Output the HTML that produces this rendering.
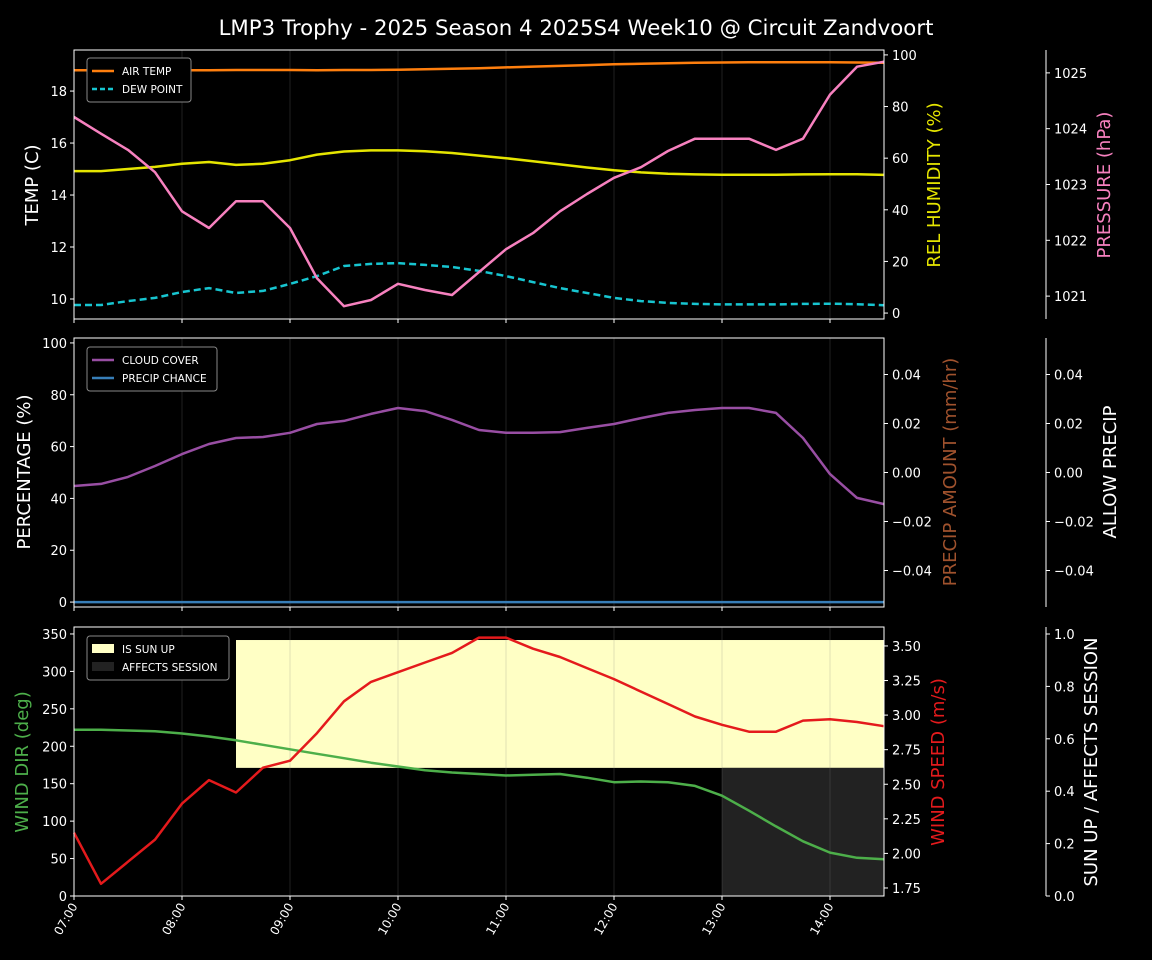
<!DOCTYPE html>
<html><head><meta charset="utf-8"><style>
html,body{margin:0;padding:0;background:#000;}
svg{display:block;font-family:"DejaVu Sans","Liberation Sans",sans-serif;}
</style></head><body>
<svg id="chart" width="1152" height="960" viewBox="0 0 1152 960" xmlns="http://www.w3.org/2000/svg">
<rect width="1152" height="960" fill="#000"/>
<text x="576" y="35" fill="#fff" font-size="21.3" text-anchor="middle">LMP3 Trophy - 2025 Season 4 2025S4 Week10 @ Circuit Zandvoort</text>
</svg>
<script>
const times=["07:00","08:00","09:00","10:00","11:00","12:00","13:00","14:00"];
const airTemp=[18.8,18.8,18.8,18.8,18.8,18.8,18.81,18.81,18.81,18.8,18.81,18.81,18.82,18.84,18.86,18.88,18.91,18.94,18.97,19.0,19.03,19.05,19.07,19.09,19.1,19.11,19.11,19.11,19.11,19.1,19.09];
const dewPoint=[9.77,9.77,9.92,10.04,10.27,10.42,10.23,10.31,10.58,10.88,11.27,11.35,11.38,11.31,11.23,11.08,10.88,10.65,10.42,10.23,10.04,9.92,9.85,9.81,9.79,9.79,9.79,9.81,9.82,9.80,9.76];
const humidity=[55.0,55.0,55.8,56.6,57.8,58.5,57.4,57.8,59.2,61.4,62.6,63.0,63.0,62.7,62.0,61.0,60.0,58.8,57.6,56.4,55.3,54.5,54.0,53.7,53.6,53.6,53.6,53.7,53.8,53.8,53.5];
const pressure=[1024.21,1023.91,1023.62,1023.22,1022.52,1022.22,1022.70,1022.70,1022.22,1021.32,1020.82,1020.93,1021.22,1021.11,1021.02,1021.43,1021.84,1022.13,1022.52,1022.83,1023.12,1023.31,1023.60,1023.82,1023.82,1023.82,1023.62,1023.82,1024.61,1025.11,1025.20];
const cloud=[44.8,45.6,48.3,52.5,57.1,61.0,63.3,63.7,65.3,68.7,69.9,72.6,74.9,73.7,70.3,66.4,65.3,65.3,65.6,67.2,68.7,71.0,73.0,74.1,74.9,74.9,73.0,63.3,49.4,40.2,37.8];
const precipChance=[0,0,0,0,0,0,0,0,0,0,0,0,0,0,0,0,0,0,0,0,0,0,0,0,0,0,0,0,0,0,0];
const windDir=[222,222,221,220,217,213,208,202,196,190,184,178,173,168,165,163,161,162,163,158,152,153,152,147,134,114,93,73,58,51,49];
const windSpd=[2.15,1.78,1.94,2.10,2.36,2.53,2.44,2.62,2.67,2.87,3.10,3.24,3.31,3.38,3.45,3.56,3.56,3.48,3.42,3.34,3.26,3.17,3.08,2.99,2.93,2.88,2.88,2.96,2.97,2.95,2.92];
const sunUpRange=[6,30];
const sunUpLevels=[0.489,0.977];
const affectsRange=[24,30];
const affectsLevels=[0,0.489];
const tempTicks=[10,12,14,16,18];
const humTicks=[0,20,40,60,80,100];
const presTicks=[1021,1022,1023,1024,1025];
const pctTicks=[0,20,40,60,80,100];
const precTicks=[-0.04,-0.02,0.00,0.02,0.04];
const dirTicks=[0,50,100,150,200,250,300,350];
const spdTicks=[1.75,2.00,2.25,2.50,2.75,3.00,3.25,3.50];
const sunTicks=[0.0,0.2,0.4,0.6,0.8,1.0];

const svg=document.getElementById('chart');
const NS="http://www.w3.org/2000/svg";
const X0=74,X1=884;
const xi=i=>X0+(X1-X0)*i/30;
function el(tag,attrs,parent){const e=document.createElementNS(NS,tag);for(const k in attrs)e.setAttribute(k,attrs[k]);(parent||svg).appendChild(e);return e;}
function txt(x,y,s,attrs){const t=el('text',Object.assign({x:x,y:y,fill:'#fff','font-size':13},attrs||{}));t.textContent=s;return t;}
function lin(dmin,dmax,pTop,pBot){return v=>pBot-(v-dmin)/(dmax-dmin)*(pBot-pTop);}
function axis(x,ys,ticks,fmt,side,name){
  const g=el('g',{});
  
  
  ticks.forEach(t=>{const y=ys(t);
    if(side==='left'){el('line',{x1:x-4,x2:x,y1:y,y2:y,stroke:'#fff'},g);g.appendChild(txt(x-7,y+5,fmt(t),{'text-anchor':'end'}));}
    else{el('line',{x1:x,x2:x+4,y1:y,y2:y,stroke:'#fff'},g);g.appendChild(txt(x+8,y+5,fmt(t)));}
  });
}
function vtitle(x,y,s,color,name){const t=txt(x,y,s,{fill:color,'font-size':18,'text-anchor':'middle',transform:`rotate(-90 ${x} ${y})`});
  
  }
function line(data,ys,color,name,dash,w){const p=el('path',{d:data.map((v,i)=>(i?'L':'M')+xi(i).toFixed(1)+','+ys(v).toFixed(1)).join(''),fill:'none',stroke:color,'stroke-width':w||2.5,'stroke-linejoin':'round'});
  if(dash)p.setAttribute('stroke-dasharray',dash);
  
  }
function frame(top,bot,name){
  const g=el('g',{});
  
  
  for(let h=1;h<8;h++){const x=X0+108*h;el('line',{x1:x,x2:x,y1:top,y2:bot,stroke:'rgba(128,128,128,0.16)','stroke-width':1.5},g);}
  for(let h=0;h<8;h++){const x=X0+108*h;el('line',{x1:x,x2:x,y1:bot,y2:bot+4,stroke:'#fff'},g);}
}
function border(top,bot){el('rect',{x:X0,y:top,width:X1-X0,height:bot-top,fill:'none',stroke:'#fff','stroke-width':1});}
function legend(x,y,w,items,name){
  const g=el('g',{});
  
  
  el('rect',{x:x,y:y,width:w,height:8+items.length*18,rx:3,fill:'#000',stroke:'#888','stroke-width':1},g);
  items.forEach((it,k)=>{const yy=y+13+k*18;
    if(it.patch)el('rect',{x:x+5,y:yy-5,width:22,height:9,fill:it.color},g);
    else{const l=el('line',{x1:x+5,x2:x+27,y1:yy,y2:yy,stroke:it.color,'stroke-width':2.5},g);if(it.dash)l.setAttribute('stroke-dasharray','5,3');}
    g.appendChild(txt(x+35,yy+4,it.label,{'font-size':10.5}));});
}
const f0=v=>String(v), f2=v=>(v<0?'\u2212':'')+Math.abs(v).toFixed(2), f1=v=>v.toFixed(1);

// Panel 1
let T=50,B=319;
frame(T,B,'temp-panel-grid');
const yT=lin(9.23,19.58,T,B), yH=lin(-2.3,101.9,T,B), yP=lin(1020.59,1025.41,T,B);
line(airTemp,yT,'#ff7f0e','air-temp-line');
line(dewPoint,yT,'#17c5d0','dew-point-line','7,4');
line(humidity,yH,'#e5e500','humidity-line');
line(pressure,yP,'#f781bf','pressure-line');
border(T,B);
axis(X0,yT,tempTicks,f0,'left','temp-axis');
axis(X1,yH,humTicks,f0,'right','humidity-axis');
el('line',{x1:1046,x2:1046,y1:T,y2:B,stroke:'#fff'});
axis(1046,yP,presTicks,f0,'right','pressure-axis');
vtitle(38,185,'TEMP (C)','#fff','temp-axis-title');
vtitle(940,185,'REL HUMIDITY (%)','#e5e500','humidity-axis-title');
vtitle(1110,185,'PRESSURE (hPa)','#f781bf','pressure-axis-title');
legend(87,58,104,[{label:'AIR TEMP',color:'#ff7f0e'},{label:'DEW POINT',color:'#17c5d0',dash:1}],'temp-legend');

// Panel 2
T=338;B=607;
frame(T,B,'percent-panel-grid');
const yC=lin(-1.9,101.9,T,B), yR=lin(-0.0549,0.0549,T,B);
line(cloud,yC,'#984ea3','cloud-cover-line');
line(precipChance,yC,'#377eb8','precip-chance-line');
border(T,B);
axis(X0,yC,pctTicks,f0,'left','percentage-axis');
axis(X1,yR,precTicks,f2,'right','precip-amount-axis');
el('line',{x1:1046,x2:1046,y1:T,y2:B,stroke:'#fff'});
axis(1046,yR,precTicks,f2,'right','allow-precip-axis');
vtitle(30,472,'PERCENTAGE (%)','#fff','percentage-axis-title');
vtitle(956,472,'PRECIP AMOUNT (mm/hr)','#a0522d','precip-amount-axis-title');
vtitle(1116,472,'ALLOW PRECIP','#fff','allow-precip-axis-title');
legend(87,347,130,[{label:'CLOUD COVER',color:'#984ea3'},{label:'PRECIP CHANCE',color:'#377eb8'}],'percent-legend');

// Panel 3
T=627;B=896;
const yS=lin(0,1.0267,T,B);
const sr=el('rect',{x:xi(sunUpRange[0]),y:yS(sunUpLevels[1]),width:xi(sunUpRange[1])-xi(sunUpRange[0]),height:yS(sunUpLevels[0])-yS(sunUpLevels[1]),fill:'#ffffc5'});


const ar=el('rect',{x:xi(affectsRange[0]),y:yS(affectsLevels[1]),width:xi(affectsRange[1])-xi(affectsRange[0]),height:yS(affectsLevels[0])-yS(affectsLevels[1]),fill:'#222'});


frame(T,B,'wind-panel-grid');
const yD=lin(0,359.3,T,B), yW=lin(1.692,3.637,T,B);
line(windDir,yD,'#4daf4a','wind-dir-line');
line(windSpd,yW,'#e41a1c','wind-speed-line');
border(T,B);
axis(X0,yD,dirTicks,f0,'left','wind-dir-axis');
axis(X1,yW,spdTicks,f2,'right','wind-speed-axis');
el('line',{x1:1046,x2:1046,y1:T,y2:B,stroke:'#fff'});
axis(1046,yS,sunTicks,f1,'right','sun-up-axis');
vtitle(28,762,'WIND DIR (deg)','#4daf4a','wind-dir-axis-title');
vtitle(944,762,'WIND SPEED (m/s)','#e41a1c','wind-speed-axis-title');
vtitle(1097,762,'SUN UP / AFFECTS SESSION','#fff','sun-axis-title');
legend(87,636,142,[{label:'IS SUN UP',color:'#ffffc5',patch:1},{label:'AFFECTS SESSION',color:'#222',patch:1}],'wind-legend');

times.forEach((t,h)=>{const x=X0+108*h+4,y=906;
  const e=txt(x,y,t,{'font-size':12,'text-anchor':'end',transform:`rotate(-60 ${x} ${y})`});
  
  });
</script>
</body></html>
